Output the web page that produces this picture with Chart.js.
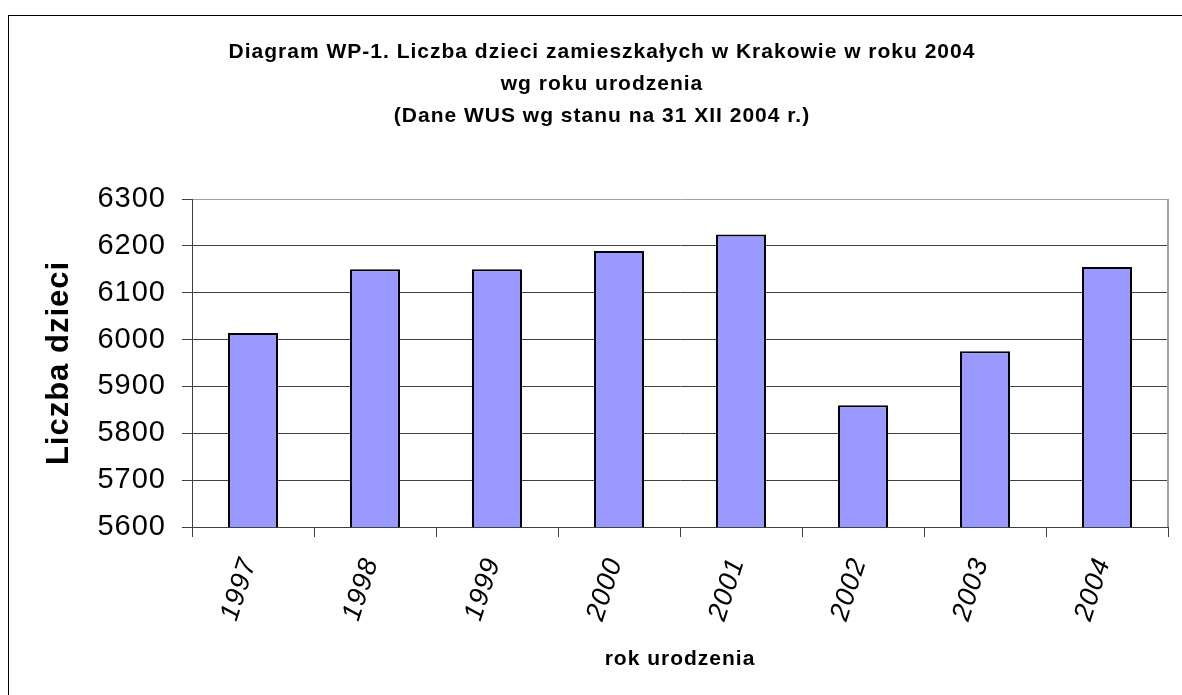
<!DOCTYPE html>
<html>
<head>
<meta charset="utf-8">
<title>Diagram WP-1</title>
<script src="https://cdn.jsdelivr.net/npm/chart.js@4/dist/chart.umd.min.js"></script>
<style>
    html, body { margin: 0; padding: 0; background: #fff; overflow: hidden; }
    .frame {
        position: absolute; left: 8px; top: 15px;
        width: 1300px; height: 800px;
        border-left: 1px solid #000; border-top: 1px solid #000;
    }
    .wrap { position: absolute; left: 0; top: 0; width: 1182px; height: 695px; }
</style>
</head>
<body>
<div class="frame"></div>
<div class="wrap"><canvas id="chart" width="1182" height="695"></canvas></div>
<script>
// rok urodzenia -> liczba dzieci (WUS, 31 XII 2004)
const years = ['1997', '1998', '1999', '2000', '2001', '2002', '2003', '2004'];
const children = [6014, 6150, 6150, 6189, 6224, 5860, 5975, 6155];
const yTicks = [5600, 5700, 5800, 5900, 6000, 6100, 6200, 6300];

const titleLines = [
    'Diagram WP-1. Liczba dzieci zamieszkałych w Krakowie w roku 2004',
    'wg roku urodzenia',
    '(Dane WUS wg stanu na 31 XII 2004 r.)',
];

const FONT = "'Liberation Sans', Arial, sans-serif";

// excel draws its text a bit spaced out
const letterSpacing = {
    id: 'letterSpacing',
    beforeDraw(chart) { chart.ctx.letterSpacing = '1px'; },
};

// grey plot-area border on the right side
const plotFrame = {
    id: 'plotFrame',
    beforeDatasetsDraw(chart) {
        const { ctx, chartArea: a } = chart;
        ctx.save();
        ctx.strokeStyle = '#a0a0a0';
        ctx.lineWidth = 2;
        ctx.beginPath();
        ctx.moveTo(a.right, a.top);
        ctx.lineTo(a.right, a.bottom);
        ctx.stroke();
        ctx.restore();
    },
};

function buildChart() {
    const ctx = document.getElementById('chart').getContext('2d');
    return new Chart(ctx, {
        type: 'bar',
        data: {
            labels: years,
            datasets: [{
                label: 'Liczba dzieci',
                data: children,
                backgroundColor: '#9999ff',
                borderColor: '#000',
                borderWidth: 2,
                borderSkipped: false,
                categoryPercentage: 1,
                barPercentage: 0.41,
            }],
        },
        options: {
            responsive: false,
            animation: false,
            layout: { padding: { left: 36, top: 15, right: 14, bottom: 0 } },
            plugins: {
                legend: { display: false },
                tooltip: { enabled: false },
                title: {
                    display: true,
                    text: titleLines,
                    color: '#000',
                    font: { family: FONT, size: 21, weight: 'bold', lineHeight: 32 / 21 },
                    padding: { top: 21, bottom: 67 },
                },
            },
            scales: {
                x: {
                    grid: {
                        drawOnChartArea: false,
                        tickLength: 10,
                        color: '#404040',
                        offset: true,
                    },
                    border: { color: '#404040', width: 1 },
                    ticks: {
                        color: '#000',
                        font: { family: FONT, size: 27, style: 'italic' },
                        autoSkip: false,
                        minRotation: 72,
                        maxRotation: 72,
                        padding: 17,
                        labelOffset: -4,
                    },
                    title: {
                        display: true,
                        text: 'rok urodzenia',
                        color: '#000',
                        font: { family: FONT, size: 21, weight: 'bold' },
                        padding: { top: 0, bottom: 23 },
                    },
                    afterFit(scale) { scale.height = 168; },
                },
                y: {
                    min: yTicks[0],
                    max: yTicks[yTicks.length - 1],
                    afterBuildTicks(scale) { scale.ticks = yTicks.map(v => ({ value: v })); },
                    grid: {
                        tickLength: 10,
                        color: c => (c.tick && c.tick.value === 6300 ? '#a0a0a0' : '#404040'),
                        tickColor: '#404040',
                    },
                    border: { color: '#404040', width: 1 },
                    ticks: {
                        color: '#000',
                        font: { family: FONT, size: 29 },
                        padding: 16,
                        callback: v => String(v),
                    },
                    title: {
                        display: true,
                        text: 'Liczba dzieci',
                        color: '#000',
                        font: { family: FONT, size: 31, weight: 'bold' },
                        padding: { top: 5, bottom: 0 },
                    },
                    afterFit(scale) { scale.width = 156; },
                },
            },
        },
        plugins: [letterSpacing, plotFrame],
    });
}

document.addEventListener('DOMContentLoaded', buildChart);
</script>
</body>
</html>
